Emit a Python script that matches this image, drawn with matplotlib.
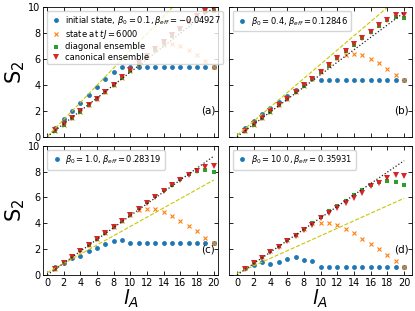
import matplotlib
matplotlib.use("Agg")
import matplotlib.pyplot as plt
import numpy as np

l_A = list(range(1, 21))

# panel (a)
blue_a = [0.70, 1.37, 1.99, 2.63, 3.25, 3.86, 4.44, 4.98] + [5.41] * 12
diag_a = [0.47, 0.93, 1.43, 1.93, 2.45, 2.93, 3.47, 4.00, 4.55, 5.08, 5.62, 6.15, 6.70, 7.25, 7.80, 8.30, 8.85, 9.30, 9.60, 9.75]
canon_a = [0.48, 0.95, 1.45, 1.95, 2.45, 2.95, 3.48, 4.02, 4.58, 5.12, 5.66, 6.20, 6.75, 7.30, 7.85, 8.35, 8.90, 9.35, 9.70, 9.85]
orange_a = [0.47, 0.93, 1.43, 1.93, 2.45, 2.93, 3.47, 4.00, 4.55, 5.08, 5.62, 6.15, 6.70, 7.10, 7.20, 7.00, 6.70, 6.30, 5.85, 5.41]

# panel (b)
blue_b = [0.70, 1.25, 1.75, 2.20, 2.70, 3.15, 3.60, 4.05, 4.50] + [4.35] * 11
diag_b = [0.45, 0.93, 1.42, 1.92, 2.42, 2.92, 3.42, 3.95, 4.45, 5.00, 5.50, 6.05, 6.60, 7.10, 7.60, 8.10, 8.58, 9.00, 9.27, 9.14]
canon_b = [0.47, 0.95, 1.45, 1.95, 2.45, 2.95, 3.45, 3.97, 4.48, 5.02, 5.54, 6.07, 6.62, 7.14, 7.62, 8.12, 8.60, 9.05, 9.38, 9.38]
orange_b = [0.45, 0.93, 1.42, 1.92, 2.42, 2.92, 3.42, 3.95, 4.45, 5.00, 5.50, 6.05, 6.30, 6.40, 6.30, 6.00, 5.67, 5.23, 4.77, 4.35]

# panel (c)
blue_c = [0.64, 0.96, 1.30, 1.50, 1.84, 2.09, 2.37, 2.60, 2.73] + [2.45] * 11
diag_c = [0.50, 0.98, 1.45, 1.90, 2.35, 2.80, 3.27, 3.73, 4.20, 4.67, 5.15, 5.62, 6.08, 6.55, 7.00, 7.42, 7.82, 8.07, 8.16, 8.00]
canon_c = [0.48, 0.96, 1.43, 1.88, 2.33, 2.78, 3.25, 3.71, 4.17, 4.62, 5.10, 5.57, 6.02, 6.48, 6.93, 7.36, 7.76, 8.08, 8.36, 8.42]
orange_c = [0.50, 0.98, 1.45, 1.90, 2.35, 2.80, 3.27, 3.73, 4.20, 4.67, 5.03, 5.10, 5.10, 4.90, 4.57, 4.20, 3.80, 3.40, 2.90, 2.45]

# panel (d)
blue_d = [0.52, 0.77, 1.03, 0.85, 1.03, 1.26, 1.37, 1.16, 1.08] + [0.60] * 11
diag_d = [0.52, 0.97, 1.40, 1.83, 2.26, 2.69, 3.10, 3.55, 4.02, 4.45, 4.95, 5.34, 5.75, 6.19, 6.58, 6.97, 7.22, 7.30, 7.22, 6.97]
canon_d = [0.50, 0.93, 1.35, 1.78, 2.20, 2.63, 3.03, 3.47, 3.90, 4.39, 4.82, 5.16, 5.55, 5.94, 6.37, 6.89, 7.10, 7.48, 7.74, 7.66]
orange_d = [0.52, 0.97, 1.40, 1.83, 2.26, 2.69, 3.10, 3.55, 4.02, 4.05, 4.05, 3.87, 3.56, 3.23, 2.79, 2.40, 2.01, 1.55, 1.08, 0.60]

# reference lines: (y at l_A=0, y at l_A=20)
yellow_lines = [(0.0, 13.3), (0.1, 11.1), (0.18, 7.35), (0.13, 5.94)]
black_lines = [(0.0, 10.0), (0.0, 9.6), (0.0, 9.2), (0.0, 8.85)]

beta0 = ["0.1", "0.4", "1.0", "10.0"]
beta_eff = ["-0.04927", "0.12846", "0.28319", "0.35931"]
panel_tags = ["(a)", "(b)", "(c)", "(d)"]

blues = [blue_a, blue_b, blue_c, blue_d]
oranges = [orange_a, orange_b, orange_c, orange_d]
diags = [diag_a, diag_b, diag_c, diag_d]
canons = [canon_a, canon_b, canon_c, canon_d]

fig = plt.figure(figsize=(4.15, 3.11), dpi=100)
positions = [
    [0.1036, 0.5605, 0.4217, 0.416],
    [0.551, 0.5605, 0.441, 0.416],
    [0.1036, 0.1158, 0.4217, 0.4154],
    [0.551, 0.1158, 0.441, 0.4154],
]
xlims = [(-0.5, 20.5), (-1.0, 20.9), (-0.5, 20.5), (-1.0, 20.9)]

ms = 3.5
lfs = 6.0
for i in range(4):
    ax = fig.add_axes(positions[i])
    if i == 0:
        blabel = f"initial state, $\\beta_0 = {beta0[i]}, \\beta_{{eff}} = {beta_eff[i]}$"
    else:
        blabel = f"$\\beta_0 = {beta0[i]}, \\beta_{{eff}} = {beta_eff[i]}$"
    ax.plot(l_A, blues[i], 'o', color='#1f77b4', ms=ms, mew=0, label=blabel)
    ax.plot(l_A, oranges[i], 'x', color='#ff7f0e', ms=ms, mew=0.8,
            label="state at $tJ = 6000$")
    ax.plot(l_A, diags[i], 's', color='#2ca02c', ms=ms, mew=0,
            label="diagonal ensemble")
    ax.plot(l_A, canons[i], 'v', color='#d62728', ms=ms + 0.3, mew=0,
            label="canonical ensemble")
    y0, y1 = yellow_lines[i]
    ax.plot([0, 20], [y0, y1], '--', color='#c8c800', lw=0.8)
    b0, b1 = black_lines[i]
    ax.plot([0, 20], [b0, b1], ':', color='#222222', lw=0.9)
    ax.set_xlim(*xlims[i])
    ax.set_ylim(0, 10)
    ax.set_xticks(range(0, 21, 2))
    ax.set_yticks(range(0, 11, 2))
    ax.tick_params(direction='in', top=True, right=True, labelsize=7, length=3, width=0.6, pad=2)
    for sp in ax.spines.values():
        sp.set_linewidth(0.6)
    if i in (0, 1):
        ax.tick_params(labelbottom=False)
    else:
        ax.set_xlabel("$l_A$", fontsize=14, labelpad=0)
    if i in (1, 3):
        ax.tick_params(labelleft=False)
    else:
        ax.set_ylabel("S$_2$", fontsize=15, labelpad=1)
    if i == 0:
        ax.legend(loc='upper left', fontsize=lfs, handletextpad=0.3, borderpad=0.3,
                  labelspacing=0.15, handlelength=1.5)
    else:
        h, lab = ax.get_legend_handles_labels()
        ax.legend(h[:1], lab[:1], loc='upper left', fontsize=lfs, handletextpad=0.3,
                  borderpad=0.4, handlelength=1.5)
    ax.text(0.985, 0.2, panel_tags[i], transform=ax.transAxes, ha='right', va='center', fontsize=7.5)

fig.savefig("out.png", dpi=100)
